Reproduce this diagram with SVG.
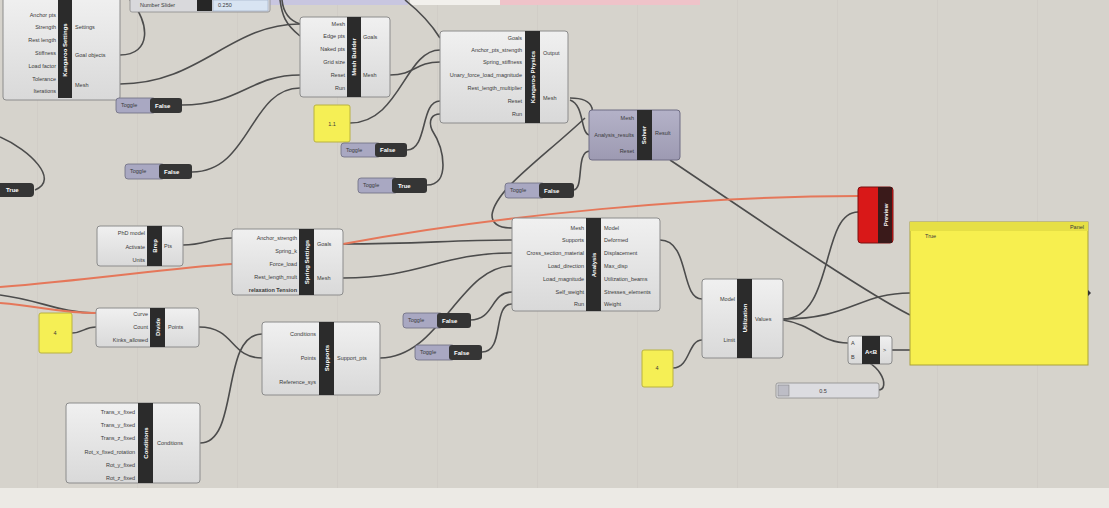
<svg xmlns="http://www.w3.org/2000/svg" width="1109" height="508" viewBox="0 0 1109 508">
<defs>
<linearGradient id="nb" x1="0" y1="0" x2="0" y2="1"><stop offset="0" stop-color="#f0f0f0"/><stop offset="1" stop-color="#d9d9d9"/></linearGradient>
<linearGradient id="nsel" x1="0" y1="0" x2="0" y2="1"><stop offset="0" stop-color="#b4b2c8"/><stop offset="1" stop-color="#9d9ab2"/></linearGradient>
<pattern id="grid" width="100" height="100" patternUnits="userSpaceOnUse" x="37" y="0"><path d="M0,0 V100" stroke="#cbc8c1" stroke-width="1" fill="none"/></pattern>
</defs>
<style>
.body{fill:url(#nb);stroke:#8c8c8c;stroke-width:1}
.bar{fill:#2b2b2b}
.t{font-family:"Liberation Sans",Arial,sans-serif;font-size:5.5px;fill:#3a3a3a}
.ti{font-family:"Liberation Sans",Arial,sans-serif;font-size:6px;fill:#ffffff;font-weight:bold}
.w{fill:none;stroke:#4c4c4c;stroke-width:1.6}
.wr{fill:none;stroke:#e5775a;stroke-width:2}
.tgl{fill:#a9a8c2;stroke:#6c6c80;stroke-width:0.8}
.tgd{fill:#353535}
.yp{fill:#f5ef55;stroke:#b9b240;stroke-width:1}
</style>
<rect width="1109" height="508" fill="#d6d3cc"/>
<rect width="1109" height="488" fill="url(#grid)"/>
<rect x="0" y="488" width="1109" height="20" fill="#eceae5"/>
<rect x="270" y="0" width="138" height="5" fill="#c8c6e0"/>
<rect x="410" y="0" width="90" height="5" fill="#f2f0ec"/>
<rect x="500" y="0" width="200" height="5" fill="#efc3c9"/>

<g id="connectors">
<path class="w" d="M120,55 C152,55 150,22 130,0"/>
<path class="w" d="M120,84 C200,84 230,24 300,24"/>
<path class="w" d="M182,105 C240,105 250,75 300,75"/>
<path class="w" d="M192,172 C250,172 250,88 300,88"/>
<path class="w" d="M0,137 C30,150 60,180 35,190"/>
<path class="w" d="M280,0 C282,15 285,24 300,36"/>
<path class="w" d="M282,0 C283,10 288,20 300,24"/>
<path class="w" d="M390,75 C415,75 415,62 440,62"/>
<path class="w" d="M350,123 C400,123 405,50 440,50"/>
<path class="w" d="M405,0 C420,12 430,22 440,38"/>
<path class="w" d="M407,150 C428,150 420,101 440,101"/>
<path class="w" d="M427,185 C450,185 445,150 432,130 C428,120 432,114 440,114"/>
<path class="w" d="M570,98 C600,98 592,118 590,118"/>
<path class="w" d="M570,100 C585,105 580,135 590,135"/>
<path class="w" d="M585,118 C540,160 495,190 492,215 C492,225 500,228 512,228"/>
<path class="w" d="M573,190 C585,190 575,151 590,151"/>
<path class="w" d="M670,160 C730,200 860,290 910,315"/>
<path class="w" d="M183,245 C205,245 210,238 232,238"/>
<path class="w" d="M343,278 C420,278 440,253 512,253"/>
<path class="w" d="M343,244 C420,244 450,240 512,240"/>
<path class="w" d="M199,327 C235,327 230,358 262,358"/>
<path class="w" d="M200,443 C240,443 220,334 262,334"/>
<path class="w" d="M72,333 C82,333 85,327 96,327"/>
<path class="w" d="M0,295 C40,300 60,313 96,313"/>
<path class="w" d="M380,358 C440,358 460,266 512,266"/>
<path class="w" d="M470,320 C495,320 490,292 512,292"/>
<path class="w" d="M482,352 C505,352 492,304 512,304"/>
<path class="w" d="M660,240 C690,240 680,299 702,299"/>
<path class="w" d="M673,368 C690,368 688,340 702,340"/>
<path class="w" d="M783,319 C850,319 860,293 910,293"/>
<path class="w" d="M783,320 C815,325 820,343 848,343"/>
<path class="w" d="M783,319 C835,319 820,212 858,212"/>
<path class="w" d="M892,350 C900,350 902,350 910,350"/>
<path class="w" d="M878,390 C892,390 880,357 848,357"/>
<path class="wr" d="M0,287 C90,280 170,268 232,264"/>
<path class="wr" d="M343,244 C500,215 700,196 858,196"/>
<path class="wr" d="M0,303 C40,306 60,313 96,313"/>
</g>

<g id="nodeA">
<rect class="body" x="3" y="-4" width="117" height="104" rx="3"/>
<rect class="bar" x="58" y="-4" width="14" height="102"/>
<text class="ti" transform="translate(67,50) rotate(-90)" text-anchor="middle">Kangaroo Settings</text>
<g class="t" text-anchor="end"><text x="56" y="17">Anchor pts</text><text x="56" y="29">Strength</text><text x="56" y="42">Rest length</text><text x="56" y="55">Stiffness</text><text x="56" y="68">Load factor</text><text x="56" y="81">Tolerance</text><text x="56" y="93">Iterations</text></g>
<g class="t"><text x="75" y="29">Settings</text><text x="75" y="57">Goal objects</text><text x="75" y="87">Mesh</text></g>
</g>

<g id="sliderTop">
<rect x="130" y="-4" width="140" height="16" rx="2" fill="#d9d9dc" stroke="#8c8c8c" stroke-width="0.8"/>
<text class="t" x="140" y="7">Number Slider</text>
<rect x="197" y="0" width="15" height="11" fill="#262626"/>
<rect x="213" y="0" width="55" height="11" fill="#d8e4f2" stroke="#9aa8c0" stroke-width="0.6"/>
<text class="t" x="218" y="7">0.250</text>
</g>

<g id="nodeB">
<rect class="body" x="300" y="17" width="90" height="80" rx="3"/>
<rect class="bar" x="347" y="17" width="14" height="80"/>
<text class="ti" transform="translate(356,57) rotate(-90)" text-anchor="middle">Mesh Builder</text>
<g class="t" text-anchor="end"><text x="345" y="26">Mesh</text><text x="345" y="38">Edge pts</text><text x="345" y="51">Naked pts</text><text x="345" y="64">Grid size</text><text x="345" y="77">Reset</text><text x="345" y="90">Run</text></g>
<g class="t"><text x="363" y="39">Goals</text><text x="363" y="77">Mesh</text></g>
</g>

<g id="panelSmall1">
<rect class="yp" x="314" y="105" width="36" height="37" rx="2"/>
<text class="t" x="332" y="126" text-anchor="middle">1.1</text>
</g>

<g id="nodeC">
<rect class="body" x="440" y="31" width="128" height="92" rx="3"/>
<rect class="bar" x="525" y="31" width="15" height="92"/>
<text class="ti" transform="translate(535,77) rotate(-90)" text-anchor="middle">Kangaroo Physics</text>
<g class="t" text-anchor="end"><text x="522" y="40">Goals</text><text x="522" y="52">Anchor_pts_strength</text><text x="522" y="64">Spring_stiffness</text><text x="522" y="77">Unary_force_load_magnitude</text><text x="522" y="90">Rest_length_multiplier</text><text x="522" y="103">Reset</text><text x="522" y="116">Run</text></g>
<g class="t"><text x="543" y="55">Output</text><text x="543" y="100">Mesh</text></g>
</g>

<g id="nodeD">
<rect x="589" y="110" width="91" height="50" rx="3" fill="url(#nsel)" stroke="#6e6c84" stroke-width="1"/>
<rect class="bar" x="637" y="110" width="15" height="50"/>
<text class="ti" transform="translate(646,135) rotate(-90)" text-anchor="middle">Solver</text>
<g class="t" text-anchor="end"><text x="634" y="120">Mesh</text><text x="634" y="137">Analysis_results</text><text x="634" y="153">Reset</text></g>
<g class="t"><text x="655" y="135">Result</text></g>
</g>

<g id="toggle0"><rect class="tgd" x="-4" y="183" width="38" height="14" rx="4"/><text class="ti" x="6" y="192">True</text></g>
<g id="toggle1"><rect class="tgl" x="116" y="98" width="40" height="15" rx="3"/><rect class="tgd" x="150" y="98" width="32" height="15" rx="3"/><text class="t" x="121" y="107">Toggle</text><text class="ti" x="155" y="108">False</text></g>
<g id="toggle2"><rect class="tgl" x="125" y="164" width="40" height="15" rx="3"/><rect class="tgd" x="159" y="164" width="33" height="15" rx="3"/><text class="t" x="130" y="173">Toggle</text><text class="ti" x="164" y="174">False</text></g>
<g id="toggle3"><rect class="tgl" x="341" y="143" width="40" height="14" rx="3"/><rect class="tgd" x="375" y="143" width="32" height="14" rx="3"/><text class="t" x="346" y="152">Toggle</text><text class="ti" x="380" y="152">False</text></g>
<g id="toggle4"><rect class="tgl" x="358" y="178" width="40" height="15" rx="3"/><rect class="tgd" x="392" y="178" width="35" height="15" rx="3"/><text class="t" x="363" y="187">Toggle</text><text class="ti" x="398" y="188">True</text></g>
<g id="toggle5"><rect class="tgl" x="505" y="183" width="40" height="15" rx="3"/><rect class="tgd" x="539" y="183" width="35" height="15" rx="3"/><text class="t" x="510" y="192">Toggle</text><text class="ti" x="544" y="193">False</text></g>
<g id="toggle6"><rect class="tgl" x="403" y="313" width="40" height="15" rx="3"/><rect class="tgd" x="437" y="313" width="34" height="15" rx="3"/><text class="t" x="408" y="322">Toggle</text><text class="ti" x="442" y="323">False</text></g>
<g id="toggle7"><rect class="tgl" x="415" y="345" width="40" height="15" rx="3"/><rect class="tgd" x="449" y="345" width="33" height="15" rx="3"/><text class="t" x="420" y="354">Toggle</text><text class="ti" x="454" y="355">False</text></g>

<g id="nodeE">
<rect class="body" x="97" y="226" width="86" height="40" rx="3"/>
<rect class="bar" x="147" y="226" width="15" height="40"/>
<text class="ti" transform="translate(157,246) rotate(-90)" text-anchor="middle">Brep</text>
<g class="t" text-anchor="end"><text x="145" y="235">PhD model</text><text x="145" y="249">Activate</text><text x="145" y="262">Units</text></g>
<g class="t"><text x="164" y="248">Pts</text></g>
</g>

<g id="nodeF">
<rect class="body" x="232" y="229" width="111" height="66" rx="3"/>
<rect class="bar" x="299" y="229" width="15" height="66"/>
<text class="ti" transform="translate(309,262) rotate(-90)" text-anchor="middle">Spring Settings</text>
<g class="t" text-anchor="end"><text x="297" y="240">Anchor_strength</text><text x="297" y="253">Spring_k</text><text x="297" y="266">Force_load</text><text x="297" y="279">Rest_length_mult</text><text x="297" y="292" font-weight="bold">relaxation Tension</text></g>
<g class="t"><text x="317" y="246">Goals</text><text x="317" y="280">Mesh</text></g>
</g>

<g id="nodeG">
<rect class="body" x="512" y="218" width="148" height="93" rx="3"/>
<rect class="bar" x="586" y="218" width="15" height="93"/>
<text class="ti" transform="translate(596,265) rotate(-90)" text-anchor="middle">Analysis</text>
<g class="t" text-anchor="end"><text x="584" y="230">Mesh</text><text x="584" y="242">Supports</text><text x="584" y="255">Cross_section_material</text><text x="584" y="268">Load_direction</text><text x="584" y="281">Load_magnitude</text><text x="584" y="294">Self_weight</text><text x="584" y="306">Run</text></g>
<g class="t"><text x="604" y="230">Model</text><text x="604" y="242">Deformed</text><text x="604" y="255">Displacement</text><text x="604" y="268">Max_disp</text><text x="604" y="281">Utilization_beams</text><text x="604" y="294">Stresses_elements</text><text x="604" y="306">Weight</text></g>
</g>

<g id="panelSmall2">
<rect class="yp" x="39" y="313" width="33" height="40" rx="2"/>
<text class="t" x="55" y="335" text-anchor="middle">4</text>
</g>

<g id="nodeH">
<rect class="body" x="96" y="308" width="103" height="39" rx="3"/>
<rect class="bar" x="150" y="308" width="15" height="39"/>
<text class="ti" transform="translate(160,327) rotate(-90)" text-anchor="middle">Divide</text>
<g class="t" text-anchor="end"><text x="148" y="316">Curve</text><text x="148" y="329">Count</text><text x="148" y="342">Kinks_allowed</text></g>
<g class="t"><text x="168" y="329">Points</text></g>
</g>

<g id="nodeI">
<rect class="body" x="262" y="322" width="118" height="73" rx="3"/>
<rect class="bar" x="319" y="322" width="15" height="73"/>
<text class="ti" transform="translate(329,358) rotate(-90)" text-anchor="middle">Supports</text>
<g class="t" text-anchor="end"><text x="316" y="336">Conditions</text><text x="316" y="360">Points</text><text x="316" y="384">Reference_sys</text></g>
<g class="t"><text x="337" y="360">Support_pts</text></g>
</g>

<g id="nodeJ">
<rect class="body" x="66" y="403" width="134" height="80" rx="3"/>
<rect class="bar" x="138" y="403" width="15" height="80"/>
<text class="ti" transform="translate(148,443) rotate(-90)" text-anchor="middle">Conditions</text>
<g class="t" text-anchor="end"><text x="135" y="414">Trans_x_fixed</text><text x="135" y="427">Trans_y_fixed</text><text x="135" y="440">Trans_z_fixed</text><text x="135" y="454">Rot_x_fixed_rotation</text><text x="135" y="467">Rot_y_fixed</text><text x="135" y="480">Rot_z_fixed</text></g>
<g class="t"><text x="157" y="445">Conditions</text></g>
</g>

<g id="nodeK">
<rect class="body" x="702" y="279" width="81" height="79" rx="3"/>
<rect class="bar" x="737" y="279" width="15" height="79"/>
<text class="ti" transform="translate(747,318) rotate(-90)" text-anchor="middle">Utilization</text>
<g class="t" text-anchor="end"><text x="735" y="301">Model</text><text x="735" y="342">Limit</text></g>
<g class="t"><text x="755" y="321">Values</text></g>
</g>

<g id="panelSmall3">
<rect class="yp" x="642" y="350" width="31" height="37" rx="2"/>
<text class="t" x="657" y="370" text-anchor="middle">4</text>
</g>

<g id="nodeL">
<rect class="body" x="848" y="336" width="44" height="28" rx="3"/>
<rect class="bar" x="862" y="336" width="18" height="28"/>
<text class="ti" x="871" y="354" text-anchor="middle">A&lt;B</text>
<g class="t"><text x="851" y="345">A</text><text x="851" y="359">B</text><text x="883" y="352">&gt;</text></g>
</g>

<g id="sliderBottom">
<rect x="776" y="383" width="103" height="15" rx="2" fill="#dcdce0" stroke="#8c8c8c" stroke-width="0.8"/>
<rect x="778" y="385" width="11" height="11" fill="#bdbdc6" stroke="#777" stroke-width="0.5"/>
<text class="t" x="823" y="393" text-anchor="middle">0.5</text>
</g>

<g id="nodeM">
<rect x="858" y="187" width="35" height="56" rx="3" fill="#d91818" stroke="#7a1010" stroke-width="1"/>
<rect x="878" y="187" width="14" height="56" fill="#3a1a1a"/>
<text class="ti" transform="translate(888,215) rotate(-90)" text-anchor="middle">Preview</text>
</g>

<g id="panelBig">
<rect x="910" y="222" width="178" height="143" fill="#f7ef4f" stroke="#a9a23a" stroke-width="1"/>
<rect x="910" y="222" width="178" height="9" fill="#e6df45"/>
<text class="t" x="1084" y="229" text-anchor="end">Panel</text>
<text class="t" x="925" y="238">True</text>
<path d="M1088,290 l3,3 l-3,3 z" fill="#333"/>
</g>
</svg>
